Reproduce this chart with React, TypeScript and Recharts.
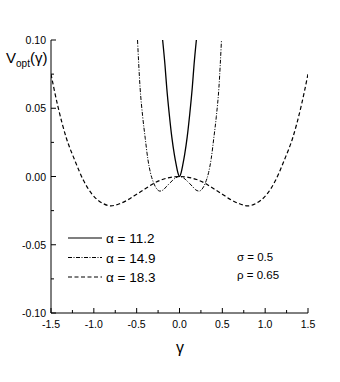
import React from "react";
import { LineChart, Line, XAxis, YAxis, Legend } from "recharts";

// alpha = 11.2 (solid)
const gammaA = [-0.197, -0.17, -0.149, -0.12, -0.09, -0.06, -0.04, -0.02, 0, 0.02, 0.04, 0.06, 0.09, 0.12, 0.149, 0.17, 0.197];
const vA = [0.1, 0.082, 0.065, 0.046, 0.029, 0.016, 0.009, 0.003, 0, 0.003, 0.009, 0.016, 0.029, 0.046, 0.065, 0.082, 0.1];

// alpha = 14.9 (dash-dot)
const gammaB = [-0.49, -0.46, -0.43, -0.4, -0.37, -0.34, -0.3, -0.26, -0.23, -0.19, -0.15, -0.1, -0.05, 0, 0.05, 0.1, 0.15, 0.19, 0.23, 0.26, 0.3, 0.34, 0.37, 0.4, 0.43, 0.46, 0.49];
const vB = [0.1, 0.065, 0.044, 0.028, 0.013, 0.003, -0.005, -0.0095, -0.0107, -0.0098, -0.0072, -0.004, -0.0012, 0, -0.0012, -0.004, -0.0072, -0.0098, -0.0107, -0.0095, -0.005, 0.003, 0.013, 0.028, 0.044, 0.065, 0.1];

// alpha = 18.3 (dashed)
const gammaC = [-1.5, -1.42, -1.32, -1.22, -1.12, -1.02, -0.9, -0.8, -0.7, -0.6, -0.5, -0.4, -0.3, -0.2, -0.1, 0, 0.1, 0.2, 0.3, 0.4, 0.5, 0.6, 0.7, 0.8, 0.9, 1.02, 1.12, 1.22, 1.32, 1.42, 1.5];
const vC = [0.075, 0.0515, 0.028, 0.0115, -0.003, -0.013, -0.0195, -0.0215, -0.02, -0.017, -0.013, -0.009, -0.005, -0.0022, -0.0006, 0, -0.0006, -0.0022, -0.005, -0.009, -0.013, -0.017, -0.02, -0.0215, -0.0195, -0.013, -0.003, 0.0115, 0.028, 0.0515, 0.075];

const xTicks = [-1.5, -1.25, -1, -0.75, -0.5, -0.25, 0, 0.25, 0.5, 0.75, 1, 1.25, 1.5];
const yTicks = [-0.1, -0.075, -0.05, -0.025, 0, 0.025, 0.05, 0.075, 0.1];
const xLabels: Record<string, string> = { "-1.5": "-1.5", "-1": "-1.0", "-0.5": "-0.5", "0": "0.0", "0.5": "0.5", "1": "1.0", "1.5": "1.5" };
const yLabels: Record<string, string> = { "-0.1": "-0.10", "-0.05": "-0.05", "0": "0.00", "0.05": "0.05", "0.1": "0.10" };

const legendNames = ["α = 11.2", "α = 14.9", "α = 18.3"];
const dashes = [undefined, "4 1.5 1 1.5", "4 2.5"];

const toPoints = (g: number[], v: number[]) => g.map((x, i) => ({ x, y: v[i] }));
const seriesA = toPoints(gammaA, vA);
const seriesB = toPoints(gammaB, vB);
const seriesC = toPoints(gammaC, vC);

const font = "'Liberation Sans', Arial, sans-serif";

function makeTick(side: "bottom" | "top" | "left" | "right") {
  return (props: any) => {
    const { x, y, payload } = props;
    const key = String(payload.value);
    const label = side === "bottom" || side === "top" ? xLabels[key] : yLabels[key];
    const len = label ? 5 : 3;
    if (side === "bottom")
      return (
        <g>
          <line x1={x} x2={x} y1={y} y2={y - len} stroke="#000" />
          {label && (
            <text x={x} y={y + 15} textAnchor="middle" fontSize={10.5} fontFamily={font} fill="#000">
              {label}
            </text>
          )}
        </g>
      );
    if (side === "top") return <line x1={x} x2={x} y1={y} y2={y + len} stroke="#000" />;
    if (side === "left")
      return (
        <g>
          <line x1={x} x2={x + len} y1={y} y2={y} stroke="#000" />
          {label && (
            <text x={x - 5} y={y + 4} textAnchor="end" fontSize={10.5} fontFamily={font} fill="#000">
              {label}
            </text>
          )}
        </g>
      );
    return <line x1={x} x2={x - len} y1={y} y2={y} stroke="#000" />;
  };
}

function LegendBox() {
  return (
    <svg width={110} height={60} style={{ display: "block" }}>
      {legendNames.map((name, i) => (
        <g key={name}>
          <line x1={8} x2={42} y1={13 + i * 19.5} y2={13 + i * 19.5} stroke="#000" strokeWidth={1.2} strokeDasharray={dashes[i]} />
          <text x={46} y={18 + i * 19.5} fontSize={13.5} fontFamily={font} fill="#000">
            {name}
          </text>
        </g>
      ))}
    </svg>
  );
}

export default function App() {
  return (
    <div style={{ position: "absolute", left: 0, top: 0, width: 340, height: 382, background: "#fff" }}>
      <LineChart width={340} height={382} margin={{ top: 40, right: 32, bottom: 0, left: 0 }}>
        <XAxis dataKey="x" type="number" domain={[-1.5, 1.5]} ticks={xTicks} interval={0} height={69}
          tickSize={0} tickMargin={0} tickLine={false} axisLine={{ stroke: "#000" }} tick={makeTick("bottom")} allowDataOverflow />
        <XAxis xAxisId="top" orientation="top" dataKey="x" type="number" domain={[-1.5, 1.5]} ticks={xTicks} interval={0} height={0}
          tickSize={0} tickMargin={0} tickLine={false} axisLine={{ stroke: "#000" }} tick={makeTick("top")} />
        <YAxis dataKey="y" type="number" domain={[-0.1, 0.1]} ticks={yTicks} interval={0} width={51}
          tickSize={0} tickMargin={0} tickLine={false} axisLine={{ stroke: "#000" }} tick={makeTick("left")} allowDataOverflow />
        <YAxis yAxisId="right" orientation="right" type="number" domain={[-0.1, 0.1]} ticks={yTicks} interval={0} width={0}
          tickSize={0} tickMargin={0} tickLine={false} axisLine={{ stroke: "#000" }} tick={makeTick("right")} />
        <Line data={seriesA} dataKey="y" name={legendNames[0]} type="monotone" stroke="#000" strokeWidth={1.3} dot={false} isAnimationActive={false} />
        <Line data={seriesB} dataKey="y" name={legendNames[1]} type="monotone" stroke="#000" strokeWidth={1} strokeDasharray={dashes[1]} dot={false} isAnimationActive={false} />
        <Line data={seriesC} dataKey="y" name={legendNames[2]} type="monotone" stroke="#000" strokeWidth={1.2} strokeDasharray={dashes[2]} dot={false} isAnimationActive={false} />
        <Legend layout="horizontal" verticalAlign="middle" align="center" content={() => <LegendBox />}
          wrapperStyle={{ position: "absolute", left: 60, top: 225, width: 110, height: 60, margin: 0 }} />
      </LineChart>
      <svg width={340} height={382} style={{ position: "absolute", left: 0, top: 0, pointerEvents: "none" }}>
        <text x={6} y={63} fontSize={15} fontFamily={font} fill="#000">
          V<tspan fontSize={10} dy={4}>opt</tspan>
          <tspan fontSize={15} dy={-4}>(γ)</tspan>
        </text>
        <text x={180} y={353} textAnchor="middle" fontSize={16} fontFamily={font} fill="#000">γ</text>
        <text x={237} y={261} fontSize={11.5} fontFamily={font} fill="#000">σ = 0.5</text>
        <text x={237} y={279} fontSize={11.5} fontFamily={font} fill="#000">ρ = 0.65</text>
      </svg>
    </div>
  );
}
